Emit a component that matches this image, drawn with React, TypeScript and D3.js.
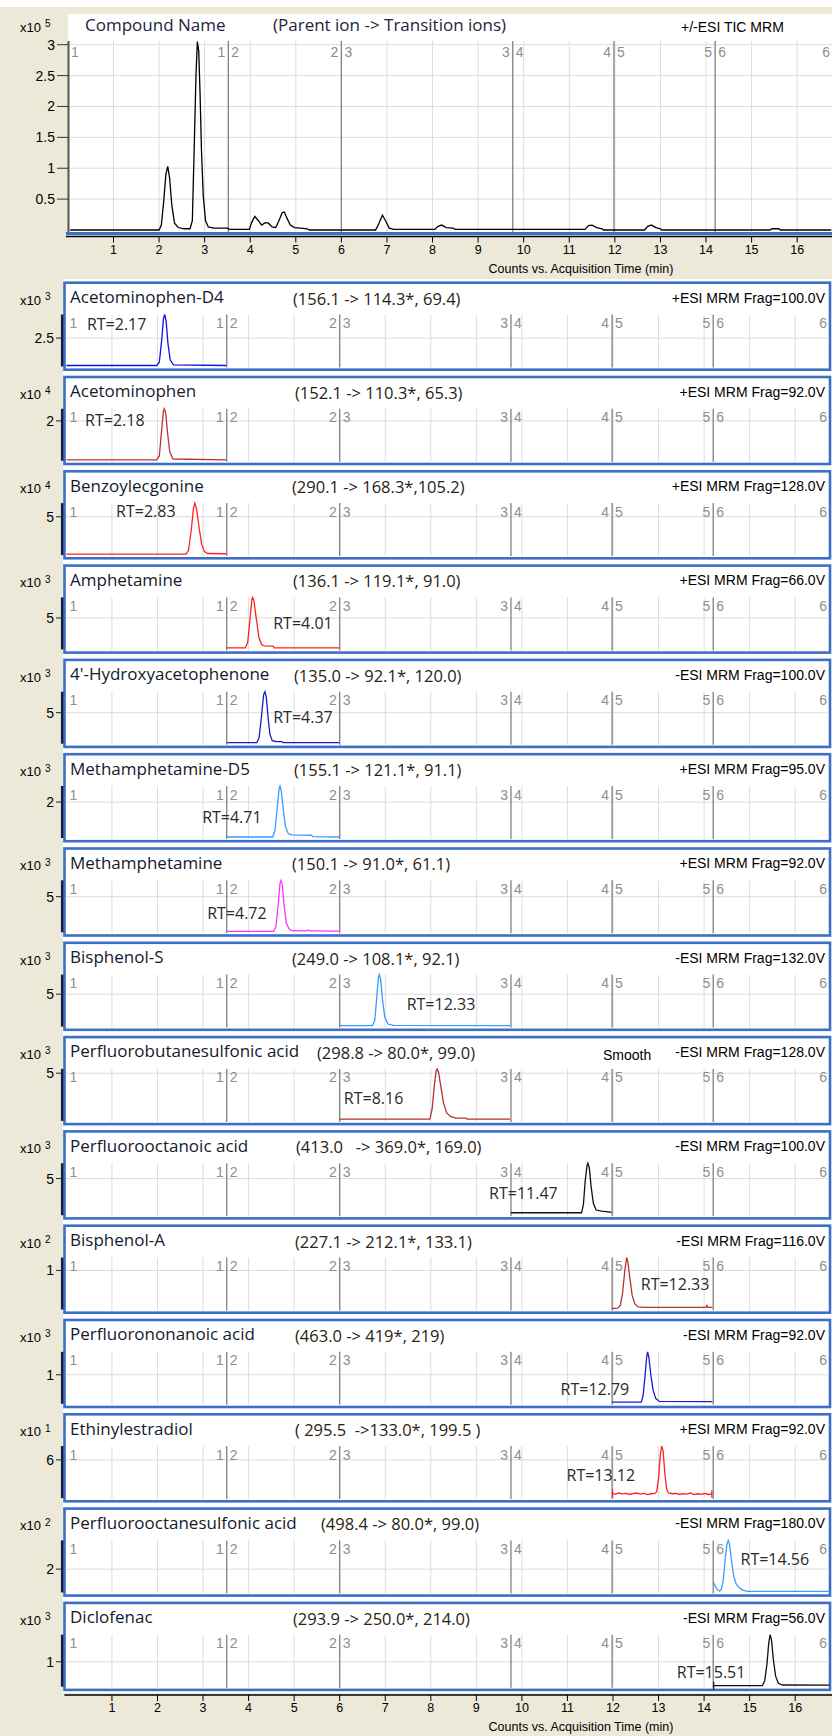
import * as d3 from 'd3';

type Pt = [number, number];

// time window of each MRM segment (min)
const SEG_BOUNDS = [3.52, 6.0, 9.76, 11.98, 14.2];
const T_MAX = 16.75;
const X_TICKS = [1, 2, 3, 4, 5, 6, 7, 8, 9, 10, 11, 12, 13, 14, 15, 16];
const TIC_TICKS = [0.5, 1, 1.5, 2, 2.5, 3];

// total ion chromatogram, x10^5 counts
const tic: Pt[] = [
  [0.05, 0], [2.0, 0], [2.05, 0.08], [2.1, 0.45], [2.15, 0.9], [2.19, 1.03], [2.23, 0.85], [2.28, 0.4],
  [2.34, 0.11], [2.42, 0.04], [2.55, 0.02], [2.68, 0.02], [2.73, 0.15], [2.77, 1.3], [2.81, 2.5],
  [2.84, 3.05], [2.87, 2.9], [2.9, 2.2], [2.93, 1.3], [2.97, 0.55], [3.02, 0.15], [3.08, 0.05],
  [3.2, 0.03], [3.5, 0.03], [3.55, 0.01], [3.98, 0.01], [4.03, 0.12], [4.1, 0.22], [4.18, 0.15],
  [4.25, 0.08], [4.33, 0.12], [4.4, 0.11], [4.48, 0.05], [4.56, 0.04], [4.63, 0.15], [4.7, 0.28],
  [4.75, 0.29], [4.8, 0.2], [4.88, 0.08], [4.97, 0.04], [5.1, 0.03], [5.25, 0.02], [5.3, 0.0],
  [6.75, 0.0], [6.82, 0.1], [6.9, 0.24], [6.97, 0.15], [7.05, 0.03], [7.15, 0.01], [8.05, 0.01],
  [8.12, 0.06], [8.2, 0.08], [8.3, 0.04], [8.45, 0.03], [8.5, 0.01], [11.35, 0.01], [11.42, 0.07],
  [11.5, 0.08], [11.6, 0.04], [11.72, 0.02], [11.75, 0.0], [12.65, 0.0], [12.72, 0.06], [12.8, 0.08],
  [12.9, 0.04], [13.0, 0.02], [13.03, 0.0], [15.4, 0.0], [15.45, 0.02], [15.6, 0.02], [15.63, 0.0],
  [16.75, 0],
];

const names = [
  'Acetominophen-D4', 'Acetominophen', 'Benzoylecgonine', 'Amphetamine', "4'-Hydroxyacetophenone",
  'Methamphetamine-D5', 'Methamphetamine', 'Bisphenol-S', 'Perfluorobutanesulfonic acid',
  'Perfluorooctanoic acid', 'Bisphenol-A', 'Perfluorononanoic acid', 'Ethinylestradiol',
  'Perfluorooctanesulfonic acid', 'Diclofenac',
];
const ions = [
  '(156.1 -> 114.3*, 69.4)', '(152.1 -> 110.3*, 65.3)', '(290.1 -> 168.3*,105.2)',
  '(136.1 -> 119.1*, 91.0)', '(135.0 -> 92.1*, 120.0)', '(155.1 -> 121.1*, 91.1)',
  '(150.1 -> 91.0*, 61.1)', '(249.0 -> 108.1*, 92.1)', '(298.8 -> 80.0*, 99.0)',
  '(413.0   -> 369.0*, 169.0)', '(227.1 -> 212.1*, 133.1)', '(463.0 -> 419*, 219)',
  '( 295.5  ->133.0*, 199.5 )', '(498.4 -> 80.0*, 99.0)', '(293.9 -> 250.0*, 214.0)',
];
const modes = [
  '+ESI MRM Frag=100.0V', '+ESI MRM Frag=92.0V', '+ESI MRM Frag=128.0V', '+ESI MRM Frag=66.0V',
  '-ESI MRM Frag=100.0V', '+ESI MRM Frag=95.0V', '+ESI MRM Frag=92.0V', '-ESI MRM Frag=132.0V',
  '-ESI MRM Frag=128.0V', '-ESI MRM Frag=100.0V', '-ESI MRM Frag=116.0V', '-ESI MRM Frag=92.0V',
  '+ESI MRM Frag=92.0V', '-ESI MRM Frag=180.0V', '-ESI MRM Frag=56.0V',
];
const exps = [3, 4, 4, 3, 3, 3, 3, 3, 3, 3, 2, 3, 1, 2, 3];
const yTicks = [2.5, 2, 5, 5, 5, 2, 5, 5, 5, 5, 1, 1, 6, 2, 1];
const yLo = [2.0, 1.0, 2.0, 2.0, 2.0, 1.0, 2.0, 2.0, 0, 2.0, 0, 0, 4.0, 1.0, 0];
const yHi = [2.93, 2.31, 6.1, 7.03, 7.1, 2.46, 6.42, 6.87, 5.46, 6.29, 1.34, 1.82, 6.74, 3.29, 2.13];
const rtLabels = [
  'RT=2.17', 'RT=2.18', 'RT=2.83', 'RT=4.01', 'RT=4.37', 'RT=4.71', 'RT=4.72', 'RT=12.33',
  'RT=8.16', 'RT=11.47', 'RT=12.33', 'RT=12.79', 'RT=13.12', 'RT=14.56', 'RT=15.51',
];
const colors = [
  '#1010e0', '#c03232', '#ff2020', '#ff2020', '#1a1ac8', '#3c9bff', '#ff30ff', '#3c9bff',
  '#b43232', '#111111', '#b43232', '#1a1ad8', '#ff2020', '#3c9bff', '#111111',
];

// extracted ion chromatograms [min, counts in panel units]
const acetD4: Pt[] = [[0, 2.0], [1.98, 2.0], [2.04, 2.06], [2.09, 2.45], [2.13, 2.85], [2.16, 2.93], [2.19, 2.8], [2.23, 2.4], [2.28, 2.1], [2.35, 2.01], [3.51, 2.0]];
const acet: Pt[] = [[0, 1.0], [1.98, 1.0], [2.04, 1.1], [2.09, 1.75], [2.13, 2.25], [2.15, 2.31], [2.18, 2.2], [2.22, 1.7], [2.27, 1.2], [2.34, 1.02], [3.51, 1.0]];
const benzo: Pt[] = [[0, 2.0], [2.63, 2.0], [2.68, 2.3], [2.74, 3.9], [2.79, 5.7], [2.82, 6.1], [2.86, 5.6], [2.91, 4.2], [2.97, 2.8], [3.03, 2.2], [3.1, 2.05], [3.51, 2.03]];
const amph: Pt[] = [[3.52, 2.05], [3.93, 2.05], [3.98, 2.6], [4.03, 4.8], [4.07, 6.8], [4.09, 7.03], [4.12, 6.6], [4.17, 4.9], [4.23, 3.0], [4.29, 2.35], [4.35, 2.25], [4.54, 2.22], [4.56, 2.05], [5.99, 2.05]];
const hydroxy: Pt[] = [[3.52, 2.0], [4.18, 2.0], [4.23, 2.5], [4.28, 4.5], [4.33, 6.8], [4.36, 7.1], [4.39, 6.5], [4.43, 4.4], [4.47, 2.8], [4.52, 2.2], [4.6, 2.12], [4.73, 2.1], [4.76, 2.0], [5.99, 2.0]];
const methD5: Pt[] = [[3.52, 1.0], [4.53, 1.0], [4.58, 1.2], [4.63, 1.85], [4.67, 2.4], [4.69, 2.46], [4.72, 2.3], [4.76, 1.8], [4.81, 1.3], [4.87, 1.1], [4.95, 1.06], [5.38, 1.05], [5.41, 1.01], [5.99, 1.0]];
const meth: Pt[] = [[3.52, 2.0], [4.55, 2.0], [4.6, 2.4], [4.65, 4.3], [4.69, 6.2], [4.71, 6.42], [4.74, 6.0], [4.78, 4.2], [4.83, 2.7], [4.89, 2.2], [4.96, 2.05], [5.27, 2.03], [5.31, 2.12], [5.35, 2.03], [5.99, 2.02]];
const bps: Pt[] = [[6.0, 2.0], [6.72, 2.0], [6.77, 2.5], [6.81, 4.5], [6.85, 6.6], [6.87, 6.87], [6.9, 6.4], [6.94, 4.5], [6.99, 2.8], [7.06, 2.15], [7.18, 2.03], [9.74, 2.0]];
const pfbs: Pt[] = [[6.0, 0.08], [7.98, 0.08], [8.03, 1.2], [8.08, 3.8], [8.12, 5.3], [8.14, 5.46], [8.17, 5.1], [8.22, 3.6], [8.28, 1.8], [8.35, 0.75], [8.44, 0.35], [8.55, 0.2], [8.78, 0.2], [8.8, 0.08], [9.74, 0.08]];
const pfoa: Pt[] = [[9.76, 2.12], [11.31, 2.12], [11.35, 2.8], [11.39, 4.8], [11.43, 6.1], [11.45, 6.29], [11.48, 5.9], [11.52, 4.3], [11.57, 2.9], [11.63, 2.35], [11.75, 2.25], [11.9, 2.2], [11.97, 2.15]];
const bpa: Pt[] = [[11.98, 0.0], [12.1, 0.01], [12.16, 0.08], [12.21, 0.4], [12.26, 1.0], [12.3, 1.34], [12.33, 1.2], [12.37, 0.8], [12.42, 0.35], [12.48, 0.12], [12.55, 0.04], [12.7, 0.03], [14.04, 0.03], [14.06, 0.08], [14.08, 0.03], [14.18, 0.03]];
const pfna: Pt[] = [[11.98, 0.025], [12.62, 0.025], [12.66, 0.25], [12.7, 0.9], [12.74, 1.65], [12.76, 1.82], [12.79, 1.6], [12.83, 1.0], [12.88, 0.45], [12.94, 0.15], [13.02, 0.05], [14.18, 0.04]];
const ethinyl: Pt[] = [
  [11.98, 4.2], [12.05, 4.15], [12.12, 4.22], [12.2, 4.17], [12.28, 4.2], [12.36, 4.14], [12.44, 4.19],
  [12.52, 4.22], [12.6, 4.16], [12.68, 4.2], [12.76, 4.13], [12.84, 4.18], [12.92, 4.2], [12.96, 4.3],
  [13.0, 5.0], [13.04, 6.3], [13.07, 6.74], [13.1, 6.5], [13.14, 5.2], [13.18, 4.4], [13.22, 4.22],
  [13.3, 4.18], [13.38, 4.2], [13.46, 4.14], [13.54, 4.19], [13.62, 4.16], [13.7, 4.22], [13.78, 4.13],
  [13.86, 4.18], [13.94, 4.15], [14.02, 4.2], [14.1, 4.14], [14.18, 4.17],
];
const pfos: Pt[] = [[14.2, 1.44], [14.24, 1.25], [14.29, 1.08], [14.34, 1.02], [14.38, 1.1], [14.42, 1.5], [14.46, 2.4], [14.5, 3.1], [14.53, 3.29], [14.56, 3.1], [14.6, 2.4], [14.65, 1.7], [14.7, 1.35], [14.77, 1.17], [14.85, 1.06], [14.95, 1.0], [16.75, 1.0]];
const diclo: Pt[] = [[14.2, 0.0], [15.28, 0.0], [15.33, 0.2], [15.38, 0.9], [15.42, 1.8], [15.45, 2.13], [15.48, 1.9], [15.52, 1.1], [15.57, 0.4], [15.63, 0.1], [15.72, 0.03], [16.75, 0.02]];

const traces = [acetD4, acet, benzo, amph, hydroxy, methD5, meth, bps, pfbs, pfoa, bpa, pfna, ethinyl, pfos, diclo];

// integration markers: [panel index, min]
const markers: Pt[] = [[12, 11.99], [12, 14.17], [14, 14.21]];

// RT annotation anchor: [min at text start, fraction of plot height at text middle]
const rtPos: Pt[] = [
  [0.45, 0.8], [0.41, 0.78], [1.09, 0.83], [4.54, 0.5], [4.54, 0.5], [2.98, 0.39], [3.09, 0.35],
  [7.47, 0.42], [6.09, 0.42], [9.28, 0.41], [12.61, 0.47], [10.85, 0.26], [10.98, 0.43], [14.8, 0.62],
  [13.4, 0.27],
];
// left edge of the transition text in each panel (px)
const ionX = [293, 295, 292, 293, 294, 294, 292, 292, 317, 296, 295, 295, 295, 321, 293];

const BEIGE = '#ECE9D8';
const FRAME = '#3D6FC7';
const GRID = '#DCDCDC';
const SEGC = '#808080';
const SEGTXT = '#8E8E8E';
const F_UI = "'Open Sans', 'Noto Sans', sans-serif";
const F_SYS = "'Liberation Sans', Arial, sans-serif";

const PANEL_TOP = 281.5;
const PITCH = 94.3;
const PLOT_T = 33;
const PLOT_B = 84;

export default function App() {
  const W = 832;
  const H = 1736;

  const xTop = d3.scaleLinear().domain([0, T_MAX]).range([67.9, 67.9 + T_MAX * 45.58]);
  const yTop = d3.scaleLinear().domain([0, 3.06]).range([230, 41]);
  const xP = d3.scaleLinear().domain([0, T_MAX]).range([66.4, 66.4 + T_MAX * 45.55]);
  const fy = d3.scaleLinear().domain([0, 1]).range([PLOT_B, PLOT_T]);

  const ticLine = d3.line<Pt>().x((d) => xTop(d[0])).y((d) => yTop(d[1]));

  const segLabels = (x: d3.ScaleLinear<number, number>, yb: number, right: number) => (
    <g fill={SEGTXT} fontFamily={F_SYS} fontSize={14}>
      <text x={x(0) + 3} y={yb}>1</text>
      {SEG_BOUNDS.map((b, i) => (
        <g key={i}>
          <text x={x(b) - 3} y={yb} textAnchor="end">{i + 1}</text>
          <text x={x(b) + 3} y={yb}>{i + 2}</text>
        </g>
      ))}
      <text x={right} y={yb} textAnchor="end">6</text>
    </g>
  );

  const bottomAxis = (x: d3.ScaleLinear<number, number>, y0: number, x1: number) => (
    <g>
      <line x1={x(0) - 2} x2={x1} y1={y0} y2={y0} stroke="#000" strokeWidth={1.5} />
      {X_TICKS.map((t) => (
        <g key={t}>
          <line x1={x(t)} x2={x(t)} y1={y0} y2={y0 + 6} stroke="#000" strokeWidth={1} />
          <text x={x(t)} y={y0 + 17} textAnchor="middle" fontFamily={F_SYS} fontSize={12.5} fill="#000">{t}</text>
        </g>
      ))}
      <text x={581} y={y0 + 36} textAnchor="middle" fontFamily={F_SYS} fontSize={12.5} fill="#000">
        Counts vs. Acquisition Time (min)
      </text>
    </g>
  );

  return (
    <div style={{ position: 'absolute', left: 0, top: 0 }}>
      <svg width={W} height={H} viewBox={`0 0 ${W} ${H}`} style={{ display: 'block' }}>
        <rect x={0} y={0} width={W} height={H} fill={BEIGE} />
        <rect x={0} y={0} width={W} height={7} fill="#fff" />

        {/* TIC overview */}
        <rect x={68} y={14} width={W - 68} height={219} fill="#fff" />
        {X_TICKS.map((t) => (
          <line key={t} x1={xTop(t)} x2={xTop(t)} y1={41} y2={232} stroke={GRID} />
        ))}
        {TIC_TICKS.map((v) => (
          <line key={v} x1={69} x2={W} y1={yTop(v)} y2={yTop(v)} stroke={GRID} />
        ))}
        {SEG_BOUNDS.map((b) => (
          <line key={b} x1={xTop(b)} x2={xTop(b)} y1={41} y2={232} stroke={SEGC} strokeWidth={1.3} />
        ))}
        {segLabels(xTop, 56.5, 830)}
        <path d={ticLine(tic) ?? ''} fill="none" stroke="#000" strokeWidth={1.3} />
        <line x1={68.5} x2={68.5} y1={41} y2={233} stroke="#555" strokeWidth={2} />
        {TIC_TICKS.map((v) => (
          <g key={v}>
            <line x1={57} x2={68} y1={yTop(v)} y2={yTop(v)} stroke="#333" />
            <text x={55} y={yTop(v) + 5} textAnchor="end" fontFamily={F_SYS} fontSize={14} fill="#000">{v}</text>
          </g>
        ))}
        <text x={20} y={31.5} fontFamily={F_SYS} fontSize={13} fill="#000">x10</text>
        <text x={45} y={27} fontFamily={F_SYS} fontSize={10} fill="#000">5</text>
        <text x={85} y={30.5} fontFamily={F_UI} fontSize={17} fill="#1c2540">Compound Name</text>
        <text x={273} y={30.5} fontFamily={F_UI} fontSize={17} fill="#1c2540">(Parent ion -&gt; Transition ions)</text>
        <text x={681} y={31.5} fontFamily={F_SYS} fontSize={14} fill="#000">+/-ESI TIC MRM</text>
        <line x1={66} x2={W} y1={233.5} y2={233.5} stroke={FRAME} strokeWidth={3} />
        {bottomAxis(xTop, 236.5, W)}

        {/* MRM panels */}
        <rect x={63} y={279} width={W - 63} height={1414} fill="#fff" />
        {names.map((name, i) => {
          const top = PANEL_TOP + i * PITCH;
          const y = d3.scaleLinear().domain([yLo[i], yHi[i]]).range([top + PLOT_B, top + PLOT_T]);
          const tr = traces[i];
          const path = d3.line<Pt>().x((d) => xP(d[0])).y((d) => y(d[1]))(tr) ?? '';
          const [rx, rf] = rtPos[i];
          const mk = markers.filter((m) => m[0] === i).map((m) => {
            const near = tr.reduce((a, b) => (Math.abs(b[0] - m[1]) < Math.abs(a[0] - m[1]) ? b : a));
            return [m[1], near[1]] as Pt;
          });
          return (
            <g key={name}>
              <rect x={64.5} y={top + 1.2} width={765.5} height={87} fill="#fff" stroke={FRAME} strokeWidth={2.6} />
              {X_TICKS.map((t) => (
                <line key={t} x1={xP(t)} x2={xP(t)} y1={top + PLOT_T} y2={top + 86} stroke={GRID} />
              ))}
              <line x1={66} x2={829} y1={y(yTicks[i])} y2={y(yTicks[i])} stroke={GRID} />
              {SEG_BOUNDS.map((b) => (
                <line key={b} x1={xP(b)} x2={xP(b)} y1={top + PLOT_T} y2={top + 86} stroke={SEGC} strokeWidth={1.3} />
              ))}
              {segLabels(xP, top + 46.5, 827)}
              <path d={path} fill="none" stroke={colors[i]} strokeWidth={1.3} />
              {mk.map((m, k) => (
                <line key={k} x1={xP(m[0])} x2={xP(m[0])} y1={y(m[1]) - 4} y2={y(m[1]) + 4} stroke={colors[i]} strokeWidth={1.2} />
              ))}
              <line x1={62.2} x2={62.2} y1={top + PLOT_T} y2={top + 85} stroke="#15204a" strokeWidth={2.6} />
              <line x1={56} x2={62} y1={y(yTicks[i])} y2={y(yTicks[i])} stroke="#222" />
              <text x={54} y={y(yTicks[i]) + 5} textAnchor="end" fontFamily={F_SYS} fontSize={14} fill="#000">{yTicks[i]}</text>
              <text x={20} y={top + 23} fontFamily={F_SYS} fontSize={13} fill="#000">x10</text>
              <text x={45} y={top + 18.5} fontFamily={F_SYS} fontSize={10} fill="#000">{exps[i]}</text>
              <text x={70} y={top + 21.5} fontFamily={F_UI} fontSize={17} fill="#141a2e">{name}</text>
              <text x={ionX[i]} y={top + 23} fontFamily={F_UI} fontSize={16.5} fill="#2a2214" style={{ whiteSpace: 'pre' }}>{ions[i]}</text>
              <text x={825} y={top + 21} textAnchor="end" fontFamily={F_SYS} fontSize={14} fill="#000">{modes[i]}</text>
              <text x={xP(rx)} y={top + fy(rf)} dy="0.35em" fontFamily={F_UI} fontSize={16} fill="#2a2a2a">{rtLabels[i]}</text>
              {i === 8 && (
                <text x={603} y={top + 24} fontFamily={F_SYS} fontSize={14} fill="#000">Smooth</text>
              )}
            </g>
          );
        })}
        {bottomAxis(xP, 1695, W)}
      </svg>
    </div>
  );
}
